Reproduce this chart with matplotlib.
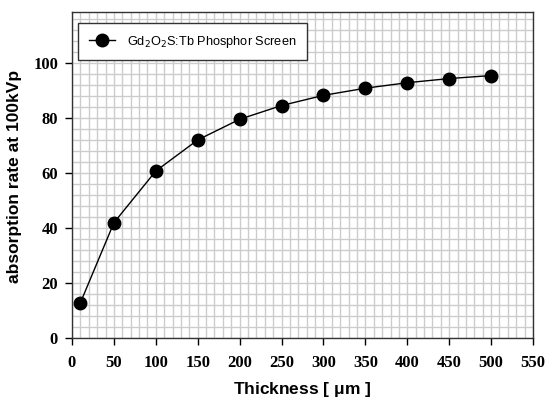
import numpy as np
import matplotlib
matplotlib.use('Agg')
import matplotlib.pyplot as plt
from matplotlib.ticker import MultipleLocator

# dati
thickness = [10, 50, 100, 150, 200, 250, 300, 350, 400, 450, 500]
absorption = [12.8, 41.9, 60.7, 72.0, 79.5, 84.5, 88.2, 90.8, 92.8, 94.3, 95.4]

fig = plt.figure(figsize=(5.45, 4.01), dpi=100)
ax = fig.add_axes([72 / 545, 1 - 338 / 401, (533 - 72) / 545, (338 - 12) / 401])

ax.set_xlim(0, 550)
ax.set_ylim(0, 118.5)
ax.xaxis.set_major_locator(MultipleLocator(50))
ax.xaxis.set_minor_locator(MultipleLocator(10))
ax.yaxis.set_major_locator(MultipleLocator(20))
ax.yaxis.set_minor_locator(MultipleLocator(4))
ax.grid(which='both', color='#cccccc', lw=1.0)
ax.set_axisbelow(True)
ax.tick_params(which='minor', length=0)
ax.tick_params(which='major', direction='out', length=5, width=1)
ax.tick_params(axis='x', pad=7)
ax.tick_params(axis='y', pad=5)
for lab in ax.get_xticklabels() + ax.get_yticklabels():
    lab.set_fontfamily('Liberation Serif')
    lab.set_fontweight('bold')
    lab.set_fontsize(12)
for s in ax.spines.values():
    s.set_color('#333333')
    s.set_linewidth(1.0)

ax.plot(thickness, absorption, color='black', lw=1.0, marker='o', ms=9,
        label='Gd$_2$O$_2$S:Tb Phosphor Screen')

ax.set_xlabel('Thickness [ $\\mathregular{\\mu}$m ]', fontfamily='Liberation Sans',
              fontweight='bold', fontsize=12.5)
ax.xaxis.set_label_coords(0.5, -0.13)
ax.set_ylabel('absorption rate at 100kVp', fontfamily='Liberation Sans',
              fontweight='bold', fontsize=12.5)
ax.yaxis.set_label_coords(-0.108, 0.497)

leg = ax.legend(loc='upper left', bbox_to_anchor=(0.0, 0.985), fancybox=False,
                framealpha=1, edgecolor='#333333', borderpad=0.8,
                handlelength=2.1, handletextpad=0.9,
                prop={'family': 'Liberation Sans', 'size': 9.2})
leg.get_frame().set_linewidth(1.0)

fig.savefig('out.png', dpi=100)
